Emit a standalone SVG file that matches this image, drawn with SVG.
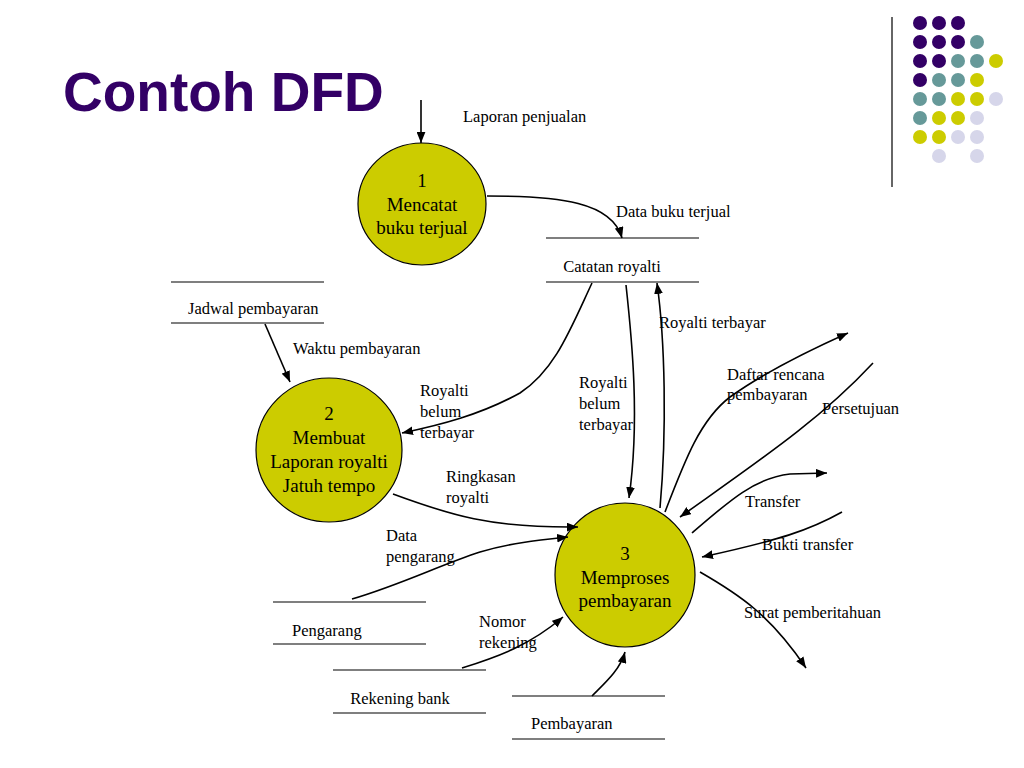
<svg xmlns="http://www.w3.org/2000/svg" width="1024" height="768" viewBox="0 0 1024 768">
<style>
.t{font-family:"Liberation Serif","Times New Roman",serif;font-size:16.5px;fill:#000}
.c{font-family:"Liberation Serif","Times New Roman",serif;font-size:19px;fill:#000;text-anchor:middle}
.p{fill:#cccc00;stroke:#000;stroke-width:1.2}
.s{stroke:#000;stroke-width:1.2}
.f{fill:none;stroke:#000;stroke-width:1.6;marker-end:url(#a)}
.d1{fill:#330066}.d2{fill:#669999}.d3{fill:#cccc00}.d4{fill:#d6d6ea}
</style>
<defs>
<marker id="a" viewBox="0 0 10 8" refX="10" refY="4" markerWidth="11" markerHeight="9" markerUnits="userSpaceOnUse" orient="auto">
<path d="M0,0 L10,4 L0,8 z" fill="#000"/>
</marker>
</defs>
<rect width="1024" height="768" fill="#fff"/>
<text x="63" y="111" font-family="Liberation Sans,Arial,sans-serif" font-weight="bold" font-size="55" fill="#330066">Contoh DFD</text>
<g id="decor">
<line x1="892" y1="17" x2="892" y2="187" stroke="#333" stroke-width="1.5"/>
<circle class="d1" cx="920" cy="23" r="7"/><circle class="d1" cx="939" cy="23" r="7"/><circle class="d1" cx="958" cy="23" r="7"/>
<circle class="d1" cx="920" cy="42" r="7"/><circle class="d1" cx="939" cy="42" r="7"/><circle class="d1" cx="958" cy="42" r="7"/><circle class="d2" cx="977" cy="42" r="7"/>
<circle class="d1" cx="920" cy="61" r="7"/><circle class="d1" cx="939" cy="61" r="7"/><circle class="d2" cx="958" cy="61" r="7"/><circle class="d2" cx="977" cy="61" r="7"/><circle class="d3" cx="996" cy="61" r="7"/>
<circle class="d1" cx="920" cy="80" r="7"/><circle class="d2" cx="939" cy="80" r="7"/><circle class="d2" cx="958" cy="80" r="7"/><circle class="d3" cx="977" cy="80" r="7"/>
<circle class="d2" cx="920" cy="99" r="7"/><circle class="d2" cx="939" cy="99" r="7"/><circle class="d3" cx="958" cy="99" r="7"/><circle class="d3" cx="977" cy="99" r="7"/><circle class="d4" cx="996" cy="99" r="7"/>
<circle class="d2" cx="920" cy="118" r="7"/><circle class="d3" cx="939" cy="118" r="7"/><circle class="d3" cx="958" cy="118" r="7"/><circle class="d4" cx="977" cy="118" r="7"/>
<circle class="d3" cx="920" cy="137" r="7"/><circle class="d3" cx="939" cy="137" r="7"/><circle class="d4" cx="958" cy="137" r="7"/><circle class="d4" cx="977" cy="137" r="7"/>
<circle class="d4" cx="939" cy="156" r="7"/><circle class="d4" cx="977" cy="156" r="7"/>
</g>
<g id="p1"><ellipse class="p" cx="422" cy="204" rx="64" ry="61"/>
<text class="c" x="422" y="187">1</text><text class="c" x="422" y="211">Mencatat</text><text class="c" x="422" y="234">buku terjual</text></g>
<g id="p2"><ellipse class="p" cx="329" cy="450" rx="73" ry="72"/>
<text class="c" x="329" y="420">2</text><text class="c" x="329" y="444">Membuat</text><text class="c" x="329" y="468">Laporan royalti</text><text class="c" x="329" y="492">Jatuh tempo</text></g>
<g id="p3"><ellipse class="p" cx="625" cy="575" rx="70" ry="72"/>
<text class="c" x="625" y="560">3</text><text class="c" x="625" y="584">Memproses</text><text class="c" x="625" y="607">pembayaran</text></g>
<g id="ds-catatan"><line class="s" x1="546" y1="238" x2="699" y2="238"/><line class="s" x1="546" y1="282" x2="699" y2="282"/><text class="t" x="612" y="272" text-anchor="middle">Catatan royalti</text></g>
<g id="ds-jadwal"><line class="s" x1="171" y1="282" x2="324" y2="282"/><line class="s" x1="171" y1="323" x2="324" y2="323"/><text class="t" x="188" y="314">Jadwal pembayaran</text></g>
<g id="ds-pengarang"><line class="s" x1="273" y1="602" x2="426" y2="602"/><line class="s" x1="273" y1="644" x2="426" y2="644"/><text class="t" x="292" y="636">Pengarang</text></g>
<g id="ds-rekening"><line class="s" x1="333" y1="670" x2="486" y2="670"/><line class="s" x1="333" y1="713" x2="486" y2="713"/><text class="t" x="400" y="704" text-anchor="middle">Rekening bank</text></g>
<g id="ds-pembayaran"><line class="s" x1="512" y1="696" x2="665" y2="696"/><line class="s" x1="512" y1="739" x2="665" y2="739"/><text class="t" x="531" y="729">Pembayaran</text></g>
<g id="connectors">
<path class="f" d="M421,100 L421,143"/>
<path class="f" d="M487,196 C560,196 612,202 622,238"/>
<path class="f" d="M592,283 C570,330 555,370 520,393 C480,415 440,425 402,433"/>
<path class="f" d="M626,285 C632,340 640,420 629,498"/>
<path class="f" d="M660,508 C667,430 665,340 657,283"/>
<path class="f" d="M265,324 L290,382"/>
<path class="f" d="M393,494 C450,515 490,528 578,527"/>
<path class="f" d="M352,599 C400,585 440,565 480,552 C510,543 540,540 568,537"/>
<path class="f" d="M462,668 C500,656 530,645 563,617"/>
<path class="f" d="M592,696 C605,683 620,670 625,652"/>
<path class="f" d="M665,512 C685,460 700,420 730,397 C765,372 810,350 848,333"/>
<path class="f" d="M873,363 C820,420 760,460 680,517"/>
<path class="f" d="M692,533 C730,500 755,478 790,474 L827,473"/>
<path class="f" d="M842,512 C810,530 780,540 702,557"/>
<path class="f" d="M700,572 C740,595 770,615 806,668"/>
</g>
<g id="labels">
<text class="t" x="463" y="122">Laporan penjualan</text>
<text class="t" x="616" y="217">Data buku terjual</text>
<text class="t" x="420" y="396">Royalti</text><text class="t" x="420" y="417">belum</text><text class="t" x="420" y="438">terbayar</text>
<text class="t" x="579" y="388">Royalti</text><text class="t" x="579" y="409">belum</text><text class="t" x="579" y="430">terbayar</text>
<text class="t" x="659" y="328">Royalti terbayar</text>
<text class="t" x="293" y="354">Waktu pembayaran</text>
<text class="t" x="446" y="482">Ringkasan</text><text class="t" x="446" y="503">royalti</text>
<text class="t" x="386" y="541">Data</text><text class="t" x="386" y="562">pengarang</text>
<text class="t" x="479" y="627">Nomor</text><text class="t" x="479" y="648">rekening</text>
<text class="t" x="727" y="380">Daftar rencana</text><text class="t" x="727" y="400">pembayaran</text>
<text class="t" x="822" y="414">Persetujuan</text>
<text class="t" x="745" y="507">Transfer</text>
<text class="t" x="762" y="550">Bukti transfer</text>
<text class="t" x="744" y="618">Surat pemberitahuan</text>
</g>
</svg>
